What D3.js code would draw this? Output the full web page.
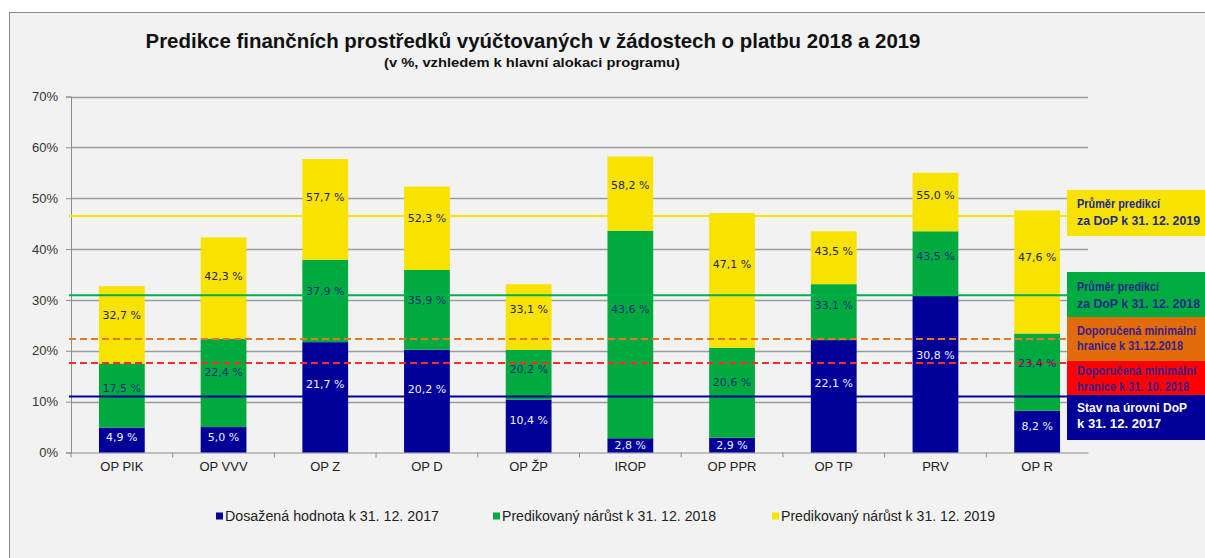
<!DOCTYPE html>
<html>
<head>
<meta charset="utf-8">
<script src="https://cdn.jsdelivr.net/npm/d3@7"></script>
<style>
  body { margin: 0; background: #fff; }
  svg { display: block; }
</style>
</head>
<body>
<svg id="chart" width="1205" height="558"></svg>
<script>
// data (cumulative values, in %)
var categories = ["OP PIK", "OP VVV", "OP Z", "OP D", "OP ŽP", "IROP", "OP PPR", "OP TP", "PRV", "OP R"];
var reached2017 = [4.9, 5.0, 21.7, 20.2, 10.4, 2.8, 2.9, 22.1, 30.8, 8.2];
var pred2018 = [17.5, 22.4, 37.9, 35.9, 20.2, 43.6, 20.6, 33.1, 43.5, 23.4];
var pred2019 = [32.7, 42.3, 57.7, 52.3, 33.1, 58.2, 47.1, 43.5, 55.0, 47.6];
var yTicks = [0, 10, 20, 30, 40, 50, 60, 70];
var seriesNames = ["Dosažená hodnota k 31. 12. 2017", "Predikovaný nárůst k 31. 12. 2018", "Predikovaný nárůst k 31. 12. 2019"];
var refValues = [46.5, 30.9, 22.3, 17.6, 11.0];
var refLabels = [
  ["Průměr predikcí", "za DoP k 31. 12. 2019"],
  ["Průměr predikcí", "za DoP k 31. 12. 2018"],
  ["Doporučená  minimální", "hranice  k 31.12.2018"],
  ["Doporučená  minimální", "hranice  k 31. 10. 2018"],
  ["Stav na úrovni DoP", " k 31. 12. 2017"]
];

var navy = "#000099", green = "#00AA3F", yellow = "#F8E300";
var seriesColors = [navy, green, yellow];

var svg = d3.select("#chart");

// chart background
svg.append("rect")
    .attr("x", 9.5).attr("y", 12.5)
    .attr("width", 1205).attr("height", 560)
    .attr("fill", "#F2F2F2")
    .attr("stroke", "#8a8a8a");

var plotLeft = 71, plotRight = 1088, plotTop = 96.5, plotBottom = 452.5;

var x = d3.scaleBand()
    .domain(categories)
    .range([plotLeft, plotRight])
    .paddingInner(0.55)
    .paddingOuter(0.275);
var y = d3.scaleLinear()
    .domain([0, 70])
    .range([plotBottom, plotTop]);

// gridlines
svg.append("g")
    .selectAll("line")
    .data(yTicks.slice(1))
    .enter()
    .append("line")
    .attr("x1", plotLeft).attr("x2", plotRight)
    .attr("y1", d => Math.round(y(d)) + 0.5)
    .attr("y2", d => Math.round(y(d)) + 0.5)
    .attr("stroke", "#9c9c9c")
    .attr("stroke-width", 1.3);

// y axis
var axisY = d3.axisLeft(y)
    .tickValues(yTicks)
    .tickSize(5)
    .tickPadding(8)
    .tickFormat(d => d + "%");
var gy = svg.append("g")
    .attr("transform", "translate(" + plotLeft + ",0)")
    .call(axisY);
gy.select(".domain").attr("stroke", "#8c8c8c");
gy.selectAll(".tick line").attr("stroke", "#8c8c8c");
gy.selectAll(".tick text")
    .attr("fill", "#333")
    .style("font-family", "'Liberation Sans', Arial, sans-serif")
    .style("font-size", "13px");

// x axis
var axisX = d3.axisBottom(x).tickSize(0).tickPadding(9);
var gx = svg.append("g")
    .attr("transform", "translate(0," + plotBottom + ")")
    .call(axisX);
gx.select(".domain").attr("stroke", "#8c8c8c");
gx.selectAll(".tick text")
    .attr("fill", "#222")
    .style("font-family", "'Liberation Sans', Arial, sans-serif")
    .style("font-size", "13px");
// tick marks between categories
gx.append("g")
    .selectAll("line")
    .data(categories)
    .enter()
    .append("line")
    .attr("x1", (d, i) => plotLeft + i * x.step())
    .attr("x2", (d, i) => plotLeft + i * x.step())
    .attr("y1", 0).attr("y2", 5)
    .attr("stroke", "#8c8c8c");

// stacked segments built from cumulative values
var segs = [];
categories.forEach(function(c, i){
    var tops = [reached2017[i], pred2018[i], pred2019[i]];
    tops.forEach(function(t, s){
        segs.push({cat: c, s: s, lo: s === 0 ? 0 : tops[s - 1], hi: t});
    });
});

svg.append("g")
    .selectAll("rect")
    .data(segs)
    .enter()
    .append("rect")
    .attr("x", d => x(d.cat))
    .attr("width", x.bandwidth())
    .attr("y", d => y(d.hi))
    .attr("height", d => y(d.lo) - y(d.hi))
    .attr("fill", d => seriesColors[d.s]);

// reference lines
var refColors = [yellow, "#00B050", "#E8781E", "#FF2A2A", navy];
var refDash = [null, null, "7,4", "7,4", null];
svg.append("g")
    .selectAll("line")
    .data(refValues)
    .enter()
    .append("line")
    .attr("x1", plotLeft - 2).attr("x2", 1070)
    .attr("y1", d => y(d)).attr("y2", d => y(d))
    .attr("stroke", (d, i) => refColors[i])
    .attr("stroke-width", 2)
    .attr("stroke-dasharray", (d, i) => refDash[i]);

// segment labels
var labelColors = ["#f0f0ff", "#0a2f80", "#25235e"];
svg.append("g")
    .selectAll("text")
    .data(segs)
    .enter()
    .append("text")
    .attr("x", d => x(d.cat) + x.bandwidth() / 2)
    .attr("y", function(d){
        var h = y(d.lo) - y(d.hi);
        return y(d.hi) + Math.max(h * 0.38, Math.min(h / 2, 9));
    })
    .attr("dy", "0.35em")
    .attr("text-anchor", "middle")
    .attr("fill", d => labelColors[d.s])
    .style("font-family", "'DejaVu Sans', Verdana, sans-serif")
    .style("font-size", "11px")
    .text(d => d3.format(".1f")(d.hi).replace(".", ",") + " %");

// right-hand legend boxes
var boxTops = [190, 272, 317, 361, 395];
var boxBottoms = [236, 317, 361, 395, 440];
var boxFills = [yellow, "#00AC40", "#E26B0A", "#FF0000", navy];
var boxText = ["#1c2a8a", "#1c2a8a", "#3a1f8a", "#3a1f8a", "#ffffff"];
var boxLineY = [[204, 221], [287, 304], [331, 346], [371, 387], [408, 424]];
var boxLineW = [[83, 123], [82, 123], [119, 106], [119, 112], [110, 84]];
var boxes = svg.append("g")
    .selectAll("g")
    .data(refLabels)
    .enter()
    .append("g");
boxes.append("rect")
    .attr("x", 1067)
    .attr("y", (d, i) => boxTops[i])
    .attr("width", 140)
    .attr("height", (d, i) => boxBottoms[i] - boxTops[i])
    .attr("fill", (d, i) => boxFills[i]);
boxes.each(function(lines, i){
    d3.select(this).selectAll("text")
        .data(lines)
        .enter()
        .append("text")
        .attr("x", 1077)
        .attr("y", (d, j) => boxLineY[i][j])
        .attr("dy", "0.35em")
        .attr("fill", boxText[i])
        .style("font-family", "'Liberation Sans', Arial, sans-serif")
        .style("font-size", "12px")
        .style("font-weight", "bold")
        .attr("textLength", (d, j) => boxLineW[i][j])
        .attr("lengthAdjust", "spacingAndGlyphs")
        .text(d => d);
});

// bottom legend
var legendX = [216, 493, 772];
var legend = svg.append("g")
    .selectAll("g")
    .data(seriesNames)
    .enter()
    .append("g")
    .attr("transform", (d, i) => "translate(" + legendX[i] + ",516)");
legend.append("rect")
    .attr("x", 0).attr("y", -3.5)
    .attr("width", 7).attr("height", 7)
    .attr("fill", (d, i) => seriesColors[i]);
legend.append("text")
    .attr("x", 9)
    .attr("dy", "0.35em")
    .attr("fill", "#222")
    .style("font-family", "'Liberation Sans', Arial, sans-serif")
    .style("font-size", "14px")
    .attr("textLength", 214)
    .attr("lengthAdjust", "spacingAndGlyphs")
    .text(d => d);

// titles
svg.append("text")
    .attr("x", 533).attr("y", 48)
    .attr("text-anchor", "middle")
    .attr("textLength", 775)
    .attr("lengthAdjust", "spacingAndGlyphs")
    .style("font-family", "'Liberation Sans Narrow', 'Liberation Sans', Arial, sans-serif")
    .style("font-size", "21px")
    .style("font-weight", "bold")
    .attr("fill", "#111")
    .text("Predikce finančních prostředků vyúčtovaných v žádostech o platbu 2018 a 2019");
svg.append("text")
    .attr("x", 532).attr("y", 67)
    .attr("text-anchor", "middle")
    .attr("textLength", 296)
    .attr("lengthAdjust", "spacingAndGlyphs")
    .style("font-family", "'Liberation Sans Narrow', 'Liberation Sans', Arial, sans-serif")
    .style("font-size", "13px")
    .style("font-weight", "bold")
    .attr("fill", "#111")
    .text("(v %, vzhledem k hlavní alokaci programu)");
</script>
</body>
</html>
